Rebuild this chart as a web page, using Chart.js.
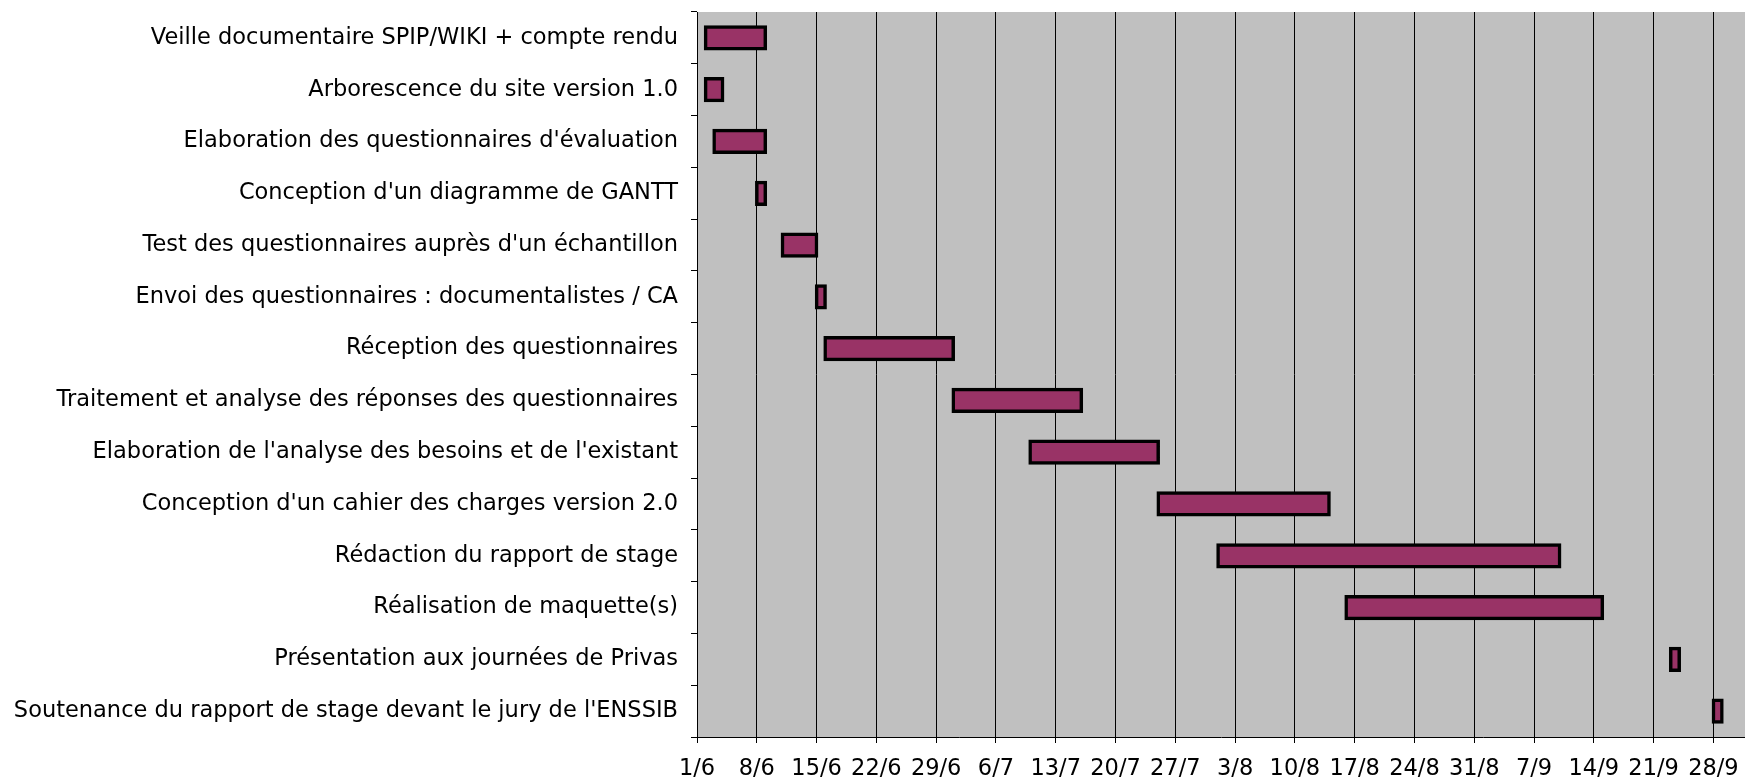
<!DOCTYPE html>
<html>
<head>
<meta charset="utf-8">
<script src="https://cdn.jsdelivr.net/npm/chart.js@4/dist/chart.umd.min.js"></script>
<style>
  html, body { margin: 0; padding: 0; background: #fff; }
  #wrap { width: 1745px; height: 781px; }
</style>
</head>
<body>
<div id="wrap"><canvas id="gantt-chart"></canvas></div>
<script>
// Tasks (top to bottom)
const tasks = [
    'Veille documentaire SPIP/WIKI + compte rendu',
    'Arborescence du site version 1.0',
    "Elaboration des questionnaires d'évaluation",
    "Conception d'un diagramme de GANTT",
    "Test des questionnaires auprès d'un échantillon",
    'Envoi des questionnaires : documentalistes / CA',
    'Réception des questionnaires',
    'Traitement et analyse des réponses des questionnaires',
    "Elaboration de l'analyse des besoins et de l'existant",
    "Conception d'un cahier des charges version 2.0",
    'Rédaction du rapport de stage',
    'Réalisation de maquette(s)',
    'Présentation aux journées de Privas',
    "Soutenance du rapport de stage devant le jury de l'ENSSIB"
];

// Days counted from 1/6
const startDay = [1, 1, 2, 7, 10, 14, 15, 30, 39, 54, 61, 76, 114, 119];
const endDay   = [8, 3, 8, 8, 14, 15, 30, 45, 54, 74, 101, 106, 115, 120];

// Weekly ticks
const tickDays = [0, 7, 14, 21, 28, 35, 42, 49, 56, 63, 70, 77, 84, 91, 98, 105, 112, 119];
const tickLabels = ['1/6', '8/6', '15/6', '22/6', '29/6', '6/7', '13/7', '20/7', '27/7',
    '3/8', '10/8', '17/8', '24/8', '31/8', '7/9', '14/9', '21/9', '28/9'];

const FONT = { family: 'DejaVu Sans', size: 22.5 };

// Gray plot background
const plotBackground = {
    id: 'plotBackground',
    beforeDraw(chart) {
        const { ctx, chartArea: a } = chart;
        ctx.save();
        ctx.fillStyle = '#c0c0c0';
        ctx.fillRect(a.left, a.top, a.right - a.left, a.bottom - a.top);
        ctx.restore();
    }
};

const ganttCtx = document.getElementById('gantt-chart').getContext('2d');
const ganttChart = new Chart(ganttCtx, {
    type: 'bar',
    data: {
        labels: tasks,
        datasets: [{
            data: tasks.map((t, i) => [startDay[i], endDay[i]]),
            backgroundColor: '#993366',
            borderColor: '#000000',
            borderWidth: 3.5,
            borderSkipped: false,
            inflateAmount: 1.75,
            barPercentage: 0.42,
            categoryPercentage: 1
        }]
    },
    options: {
        indexAxis: 'y',
        responsive: true,
        maintainAspectRatio: false,
        animation: false,
        layout: { padding: { top: 12, left: 0, right: 0, bottom: 0 } },
        plugins: { legend: { display: false }, tooltip: { enabled: false } },
        scales: {
            x: {
                type: 'linear',
                min: 0,
                max: 122.7,
                afterBuildTicks: scale => { scale.ticks = tickDays.map(v => ({ value: v })); },
                afterFit: scale => { scale.height = 44; scale.paddingRight = 0; },
                ticks: {
                    autoSkip: false,
                    maxRotation: 0,
                    padding: 13,
                    color: '#000',
                    font: FONT,
                    callback: (v, i) => tickLabels[i]
                },
                grid: { color: '#000', lineWidth: 1, tickLength: 6, tickColor: '#000' },
                border: { color: '#000', width: 1 }
            },
            y: {
                afterFit: scale => {
                    scale.width = 697;
                    scale.paddingTop = 0;
                    scale.paddingBottom = 0;
                },
                ticks: { padding: 13, color: '#000', font: FONT },
                grid: { drawOnChartArea: false, offset: true, tickLength: 6, tickColor: '#000' },
                border: { color: '#000', width: 1 }
            }
        }
    },
    plugins: [plotBackground]
});
</script>
</body>
</html>
